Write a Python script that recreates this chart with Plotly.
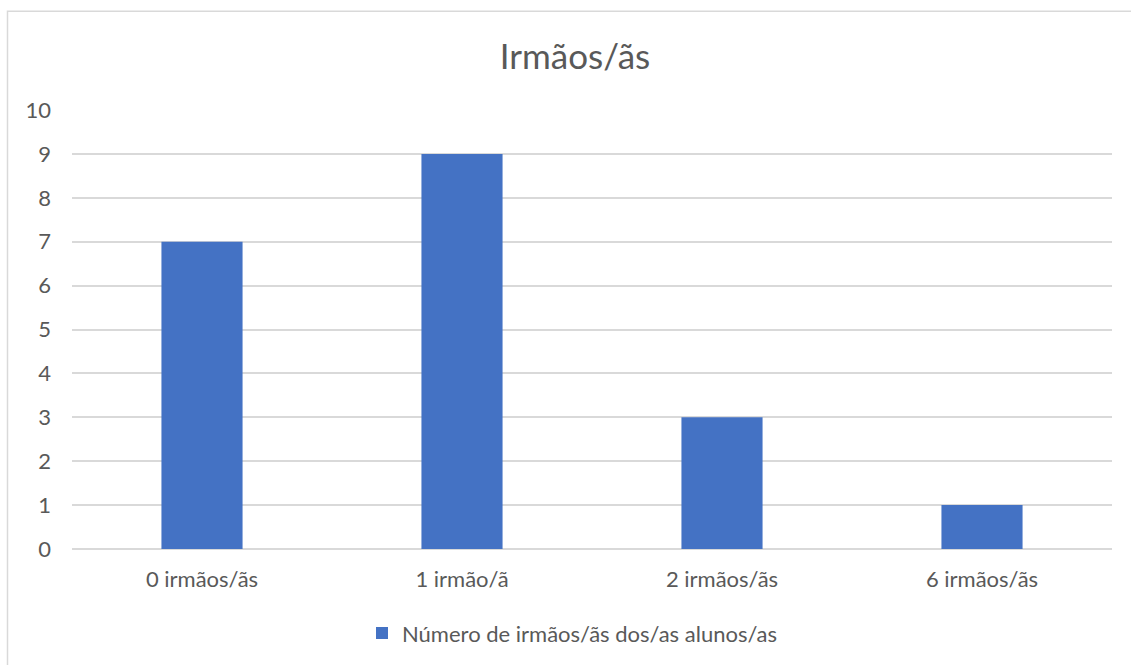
import plotly.graph_objects as go

categories = ["0 irmãos/ãs", "1 irmão/ã", "2 irmãos/ãs", "6 irmãos/ãs"]
values = [7, 9, 3, 1]
series_name = "Número de irmãos/ãs dos/as alunos/as"
title_text = "Irmãos/ãs"

FONT = "Lato, 'Open Sans', sans-serif"
TXT = "#595959"
GRID = "#D9D9D9"

fig = go.Figure()
fig.add_trace(go.Bar(
    x=categories, y=values, name=series_name,
    marker=dict(color="#4472C4", line=dict(width=0)),
    width=0.312, showlegend=True,
))

fig.update_layout(
    width=1131, height=665,
    margin=dict(l=72, r=19, t=110, b=115),
    paper_bgcolor="white", plot_bgcolor="white",
    font=dict(family=FONT, color=TXT, size=22),
    title=dict(text=title_text, x=(575 - 72) / 1040, xanchor="center", xref="paper",
               y=1 - 57 / 665, yanchor="middle", yref="container",
               font=dict(size=35, color=TXT, family=FONT)),
    showlegend=True,
    legend=dict(orientation="h", x=(572 - 72) / 1040, xanchor="center", y=-0.189, yanchor="middle",
                font=dict(size=22, color=TXT, family=FONT), itemwidth=30,
                bgcolor="rgba(0,0,0,0)"),
    xaxis=dict(showgrid=False, showline=False, zeroline=False, ticks="",
               tickfont=dict(size=22, color=TXT), ticklabelstandoff=15),
    yaxis=dict(range=[0, 10], dtick=1, showgrid=True, gridcolor=GRID, gridwidth=1.5,
               zeroline=True, zerolinecolor=GRID, zerolinewidth=1.5,
               showline=False, ticks="", tickfont=dict(size=22, color=TXT),
               ticklabelstandoff=20),
    bargap=0.688,
    shapes=[dict(type="rect", xref="paper", yref="paper",
                 x0=(7.5 - 72) / 1040, x1=1.2, y0=-0.6, y1=(550 - 11) / 440,
                 line=dict(color=GRID, width=1.5), fillcolor="rgba(0,0,0,0)", layer="below")],
)

fig.write_html("out.html")
